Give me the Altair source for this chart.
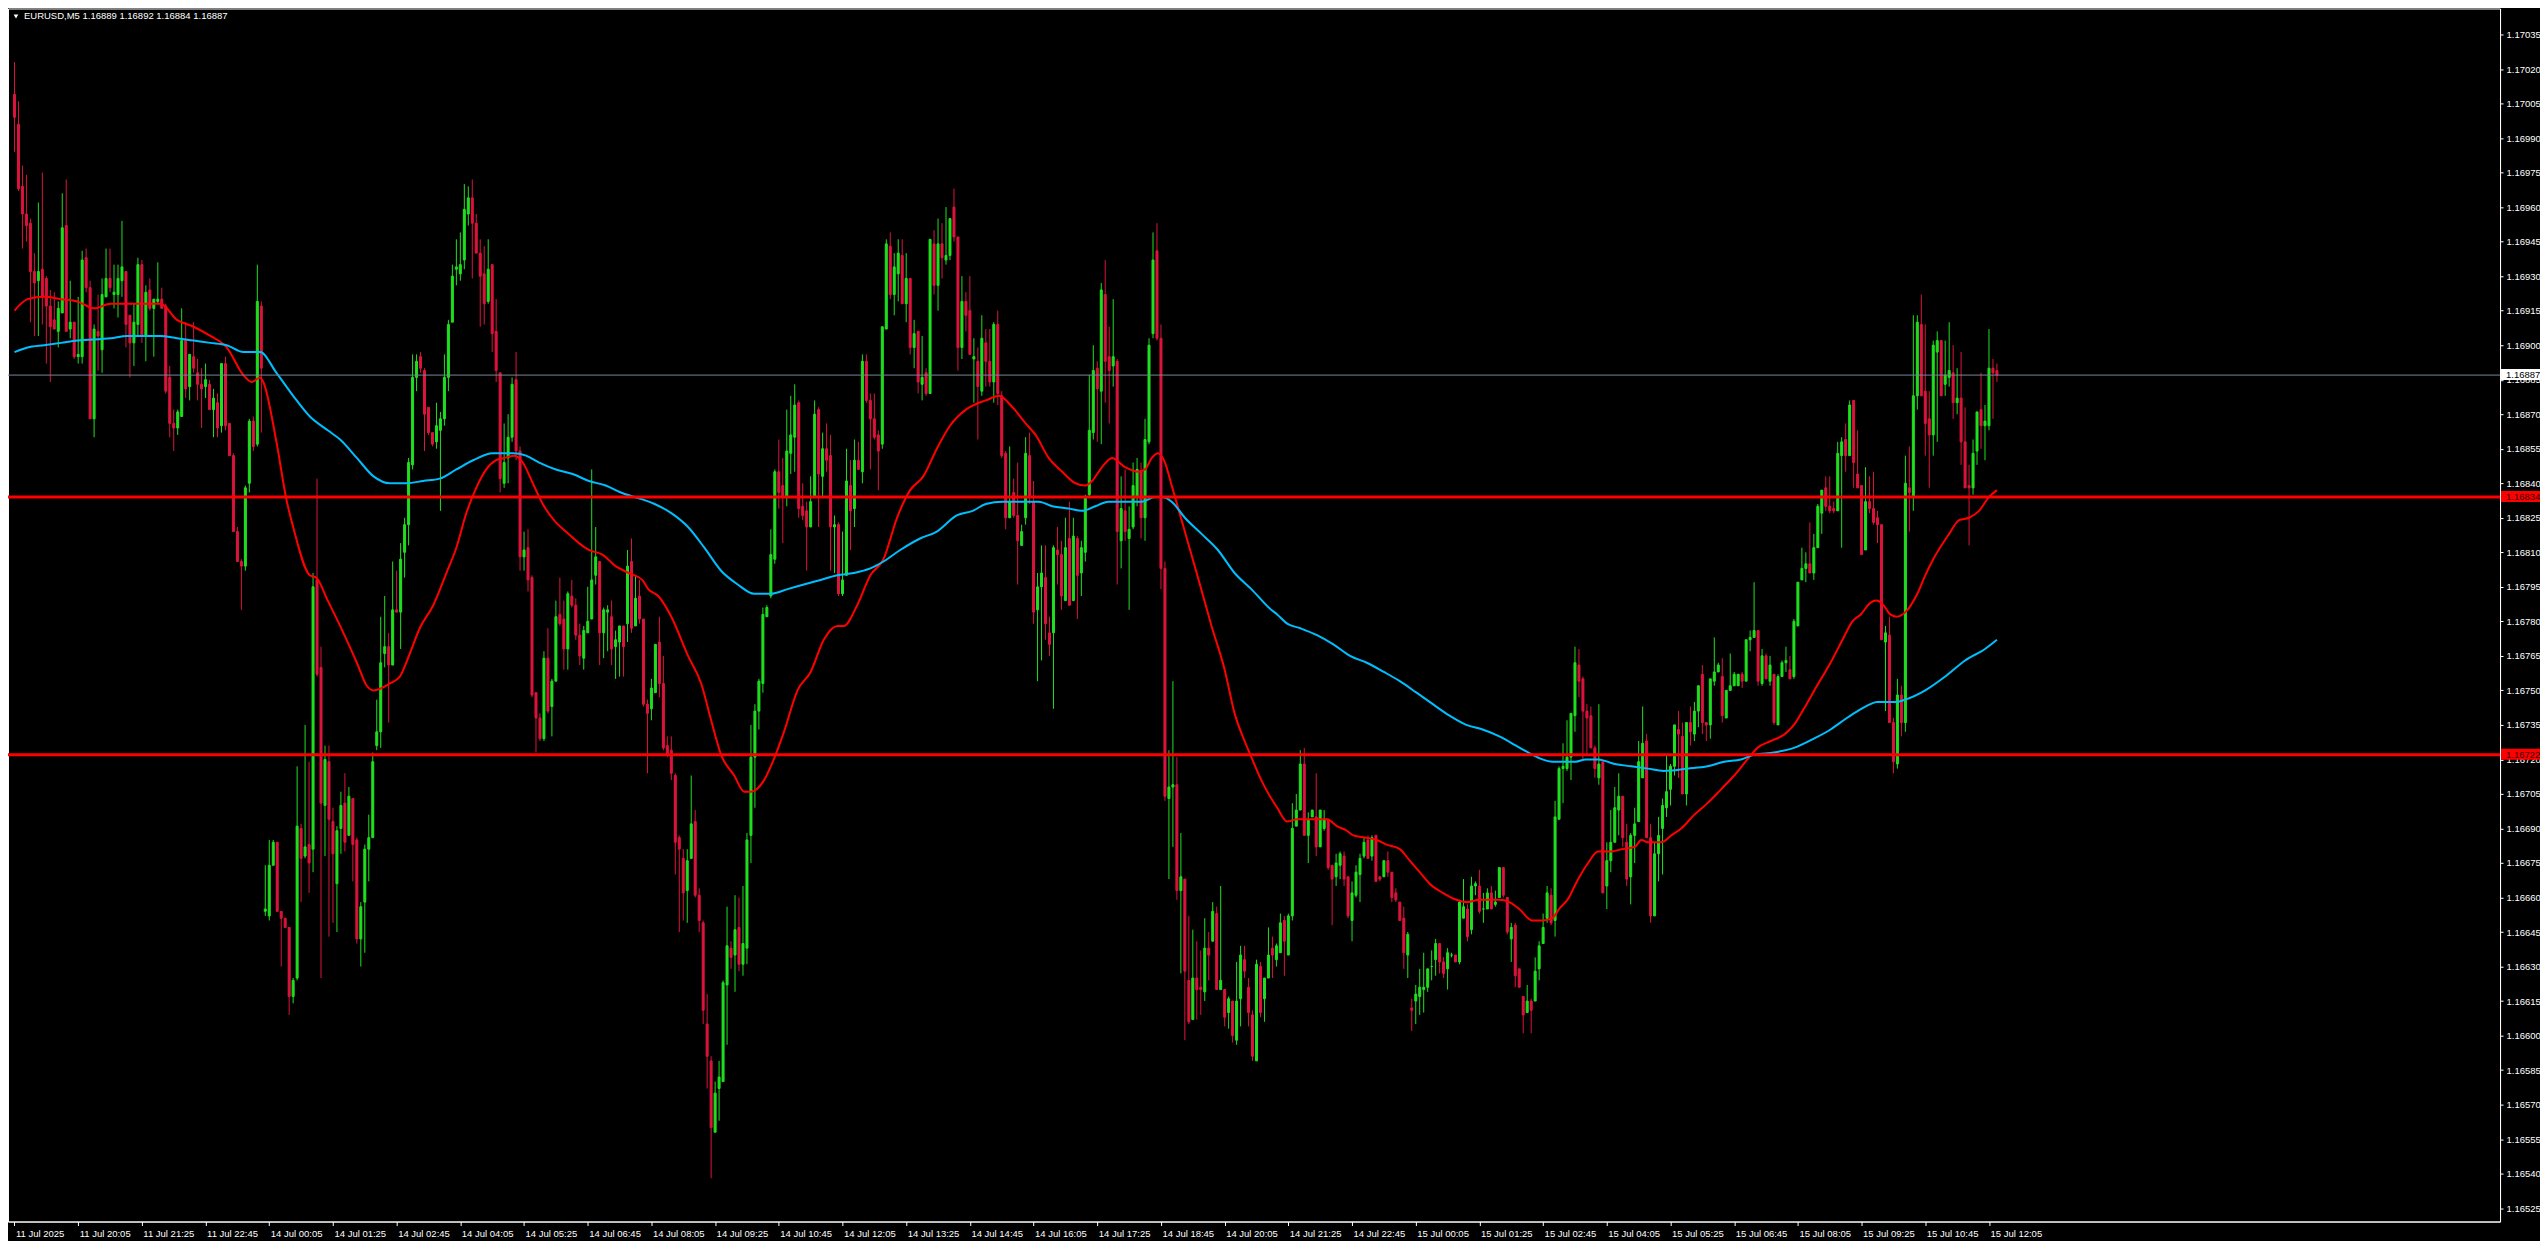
import altair as alt
import pandas as pd

# ---------------- data (prices in 1e-5 units) ----------------
OPEN = [117009,116996,116969,116957,116953,116932,116928,116933,116929,116917,116911,116906,116914,116952,116907,116910,116895,116895,116938,116925,
116868,116906,116898,116921,116929,116922,116922,116928,116932,116913,116901,116909,116935,116904,116924,116916,116919,116920,116917,116886,
116866,116864,116869,116902,116882,116895,116888,116883,116882,116883,116872,116875,116865,116892,116866,116852,116819,116806,116804,116840,
116867,116857,116917,116654,116652,116674,116684,116654,116651,116647,116617,116625,116690,116678,116683,116681,116798,116760,116700,116719,
116693,116666,116690,116701,116687,116703,116685,116642,116658,116681,116686,116726,116732,116766,116769,116761,116785,116784,116810,116822,
116848,116886,116895,116889,116873,116862,116858,116863,116868,116886,116910,116933,116931,116937,116957,116964,116953,116940,116931,116919,
116935,116906,116888,116840,116851,116860,116885,116854,116808,116812,116799,116749,116738,116729,116764,116743,116754,116783,116781,116768,
116791,116787,116774,116764,116775,116781,116800,116806,116775,116784,116782,116769,116771,116778,116779,116806,116778,116791,116781,116744,
116742,116749,116771,116753,116726,116724,116713,116686,116677,116663,116677,116693,116661,116649,116605,116589,116558,116577,116580,116622,
116638,116635,116647,116631,116638,116687,116721,116741,116753,116782,116791,116807,116845,116839,116834,116853,116860,116875,116830,116828,
116821,116834,116872,116843,116855,116852,116821,116822,116792,116800,116839,116829,116850,116845,116893,116876,116868,116861,116857,116907,
116943,116922,116931,116939,116918,116929,116899,116906,116883,116888,116879,116944,116926,116944,116937,116939,116960,116947,116899,116919,
116915,116894,116893,116880,116901,116893,116884,116909,116878,116853,116825,116836,116826,116813,116825,116852,116832,116785,116795,116799,
116775,116775,116811,116809,116789,116816,116789,116816,116801,116810,116835,116862,116890,116880,116922,116895,116891,116893,116815,116828,
116816,116821,116834,116845,116825,116858,116905,116941,116903,116803,116703,116708,116709,116663,116668,116624,116607,116625,116621,116619,
116638,116641,116653,116620,116620,116610,116615,116598,116616,116633,116621,116609,116589,116630,116616,116625,116638,116633,116636,116650,
116635,116652,116691,116698,116718,116687,116695,116695,116682,116690,116694,116674,116669,116674,116678,116669,116650,116661,116670,116678,
116685,116678,116687,116669,116669,116676,116671,116662,116658,116651,116635,116612,116615,116617,116620,116621,116630,116633,116640,116632,
116629,116635,116635,116632,116651,116655,116646,116665,116665,116655,116655,116662,116657,116660,116673,116660,116642,116648,116629,116617,
116610,116615,116615,116629,116640,116651,116661,116650,116694,116716,116716,116721,116739,116761,116755,116741,116739,116725,116712,116719,
116665,116676,116684,116698,116704,116684,116669,116687,116693,116712,116728,116686,116652,116679,116690,116699,116707,116717,116733,116730,
116705,116736,116731,116741,116757,116736,116735,116754,116758,116756,116738,116750,116752,116752,116757,116754,116772,116773,116776,116753,
116765,116754,116757,116735,116756,116762,116759,116756,116778,116798,116803,116805,116801,116812,116827,116838,116830,116829,116828,116852,
116859,116852,116876,116844,116839,116811,116832,116829,116825,116822,116771,116774,116736,116718,116748,116736,116838,116834,116878,116909,
116880,116868,116861,116897,116902,116883,116886,116888,116875,116877,116858,116839,116838,116854,116872,116865,116865,116890,116889]

HIGH = [117023,117006,116978,116974,116955,116940,116962,116975,116930,116924,116923,116919,116966,116972,116928,116910,116921,116941,116942,116928,
116909,116922,116929,116942,116942,116935,116935,116954,116932,116913,116918,116938,116937,116926,116929,116920,116936,116925,116918,116891,
116872,116872,116916,116910,116896,116910,116894,116890,116892,116885,116881,116879,116892,116895,116866,116853,116821,116807,116839,116868,
116869,116935,116919,116674,116685,116685,116684,116654,116651,116647,116625,116717,116692,116735,116719,116801,116842,116769,116726,116726,
116699,116691,116706,116714,116708,116703,116686,116658,116683,116696,116723,116746,116782,116791,116775,116806,116802,116814,116825,116851,
116896,116896,116897,116890,116873,116862,116875,116871,116896,116911,116935,116946,116949,116970,116969,116972,116957,116946,116943,116946,
116935,116920,116888,116866,116870,116886,116897,116856,116819,116820,116800,116749,116740,116767,116777,116755,116789,116799,116789,116793,
116798,116790,116779,116778,116795,116846,116821,116806,116786,116787,116789,116776,116778,116778,116811,116816,116800,116798,116781,116746,
116755,116770,116782,116765,116730,116730,116714,116687,116681,116681,116713,116698,116664,116650,116618,116591,116580,116589,116624,116656,
116641,116661,116660,116665,116688,116735,116744,116755,116786,116787,116820,116846,116859,116851,116872,116878,116883,116876,116840,116832,
116843,116876,116873,116862,116866,116861,116826,116823,116819,116855,116850,116859,116858,116896,116896,116879,116879,116863,116908,116946,
116949,116940,116946,116946,116940,116929,116911,116906,116904,116890,116946,116950,116955,116953,116960,116955,116968,116947,116930,116923,
116930,116903,116899,116913,116907,116907,116910,116915,116880,116854,116856,116842,116849,116822,116860,116862,116841,116801,116813,116813,
116782,116813,116821,116815,116825,116832,116825,116817,116815,116835,116887,116900,116893,116927,116937,116908,116920,116894,116843,116846,
116830,116849,116851,116849,116868,116903,116949,116953,116909,116806,116724,116754,116721,116688,116668,116652,116646,116641,116637,116651,
116645,116658,116656,116665,116620,116617,116615,116632,116639,116639,116625,116611,116633,116632,116625,116647,116643,116640,116653,116652,
116653,116701,116705,116724,116725,116697,116698,116714,116698,116698,116694,116674,116679,116680,116680,116669,116667,116674,116679,116686,
116687,116687,116687,116669,116676,116680,116671,116664,116658,116656,116645,116616,116622,116629,116636,116629,116637,116642,116640,116634,
116638,116636,116635,116659,116668,116657,116669,116667,116672,116662,116664,116665,116663,116673,116673,116660,116649,116649,116629,116617,
116622,116616,116634,116641,116653,116665,116664,116702,116717,116727,116737,116740,116769,116768,116756,116744,116743,116726,116744,116719,
116684,116698,116708,116714,116704,116692,116688,116699,116728,116743,116731,116692,116684,116695,116703,116722,116718,116735,116741,116736,
116736,116743,116745,116752,116761,116736,116755,116773,116762,116764,116750,116766,116758,116757,116758,116772,116776,116797,116776,116768,
116766,116765,116757,116757,116763,116769,116765,116781,116797,116812,116810,116823,116818,116831,116837,116843,116843,116832,116858,116860,
116866,116876,116876,116863,116839,116847,116843,116845,116828,116822,116778,116782,116738,116755,116752,116852,116856,116913,116913,116922,
116909,116880,116902,116906,116902,116902,116910,116900,116890,116897,116873,116848,116859,116871,116888,116874,116907,116894,116892]

LOW = [116984,116967,116942,116945,116910,116904,116904,116909,116892,116884,116907,116899,116914,116906,116903,116894,116892,116892,116923,116868,
116860,116889,116888,116921,116923,116916,116912,116921,116899,116886,116891,116904,116901,116893,116915,116895,116918,116916,116879,116860,
116854,116861,116869,116877,116876,116888,116876,116864,116877,116872,116860,116860,116862,116863,116852,116819,116806,116785,116802,116836,
116854,116856,116862,116652,116650,116674,116654,116630,116647,116609,116614,116624,116658,116677,116662,116671,116756,116625,116678,116643,
116649,116645,116679,116680,116687,116667,116640,116630,116636,116667,116686,116724,116725,116760,116736,116761,116784,116768,116799,116813,
116846,116880,116888,116854,116861,116856,116855,116828,116865,116880,116910,116926,116928,116933,116952,116929,116940,116908,116909,116918,
116897,116884,116836,116838,116840,116858,116850,116802,116802,116793,116747,116723,116728,116728,116740,116730,116754,116778,116759,116759,
116786,116772,116761,116759,116775,116781,116796,116761,116764,116767,116761,116755,116756,116756,116771,116775,116778,116779,116743,116714,
116737,116749,116747,116724,116721,116711,116670,116645,116650,116649,116677,116660,116645,116605,116577,116538,116558,116563,116580,116596,
116629,116619,116628,116626,116631,116675,116699,116733,116749,116782,116790,116805,116829,116814,116830,116844,116845,116825,116824,116802,
116821,116834,116821,116834,116845,116802,116801,116791,116791,116800,116811,116821,116846,116840,116875,116846,116859,116837,116855,116907,
116920,116913,116919,116918,116910,116896,116890,116879,116876,116878,116879,116922,116915,116929,116935,116937,116945,116889,116894,116906,
116896,116875,116859,116878,116882,116882,116875,116874,116851,116820,116825,116825,116796,116813,116822,116831,116779,116754,116763,116772,
116765,116742,116796,116785,116789,116787,116789,116781,116791,116806,116834,116859,116858,116857,116875,116866,116882,116796,116803,116815,
116785,116820,116830,116816,116815,116857,116903,116902,116794,116702,116668,116682,116659,116627,116598,116605,116607,116607,116609,116615,
116624,116641,116620,116620,116604,116603,116597,116596,116604,116625,116604,116589,116589,116608,116606,116625,116625,116630,116636,116626,
116635,116650,116691,116698,116687,116675,116695,116678,116682,116689,116672,116648,116665,116668,116665,116651,116641,116660,116658,116677,
116677,116676,116667,116667,116669,116669,116658,116658,116650,116629,116625,116602,116605,116609,116610,116619,116624,116626,116627,116625,
116620,116634,116632,116631,116651,116641,116644,116661,116653,116649,116655,116655,116656,116660,116660,116644,116632,116621,116621,116601,
116610,116601,116615,116624,116640,116649,116648,116643,116694,116701,116715,116711,116732,116747,116720,116722,116725,116712,116709,116662,
116655,116671,116684,116687,116682,116665,116657,116675,116693,116712,116686,116649,116652,116667,116670,116695,116700,116713,116712,116705,
116700,116726,116728,116734,116731,116728,116729,116752,116758,116736,116738,116750,116752,116752,116751,116754,116767,116773,116752,116752,
116755,116752,116735,116735,116756,116758,116755,116755,116778,116798,116797,116801,116798,116812,116818,116828,116827,116827,116828,116812,
116845,116852,116838,116838,116809,116811,116827,116822,116814,116772,116741,116736,116714,116716,116730,116732,116819,116828,116872,116878,
116852,116838,116852,116858,116878,116878,116882,116868,116870,116848,116838,116813,116835,116848,116855,116850,116863,116868,116884]

CLOSE = [116999,116968,116957,116952,116932,116927,116932,116921,116917,116908,116907,116916,116951,116906,116910,116895,116896,116937,116925,116868,
116907,116904,116922,116929,116925,116923,116929,116934,116909,116901,116910,116935,116904,116923,116916,116920,116920,116916,116880,116866,
116864,116871,116902,116881,116896,116890,116883,116881,116885,116872,116877,116864,116892,116865,116852,116819,116806,116804,116838,116867,
116856,116919,116890,116655,116674,116684,116654,116651,116647,116617,116624,116691,116677,116682,116675,116795,116757,116701,116720,116694,
116679,116689,116700,116684,116704,116683,116642,116656,116681,116686,116719,116732,116762,116769,116761,116785,116784,116807,116822,116849,
116886,116893,116890,116870,116862,116857,116865,116868,116886,116909,116930,116934,116935,116959,116964,116953,116940,116930,116918,116933,
116905,116889,116842,116849,116860,116883,116854,116808,116811,116798,116748,116738,116729,116764,116741,116754,116782,116779,116768,116792,
116787,116774,116765,116776,116780,116798,116808,116775,116785,116785,116768,116772,116778,116769,116804,116777,116790,116781,116744,116740,
116751,116770,116753,116725,116722,116714,116684,116681,116662,116676,116692,116661,116650,116611,116591,116560,116575,116582,116623,116639,
116634,116646,116631,116640,116685,116721,116741,116754,116783,116786,116809,116845,116836,116834,116854,116861,116874,116829,116826,116821,
116832,116870,116844,116855,116850,116821,116822,116792,116798,116841,116828,116850,116846,116893,116876,116868,116860,116854,116908,116944,
116922,116934,116940,116918,116929,116899,116905,116884,116886,116879,116946,116926,116944,116938,116939,116955,116947,116899,116919,116913,
116896,116895,116882,116903,116893,116884,116909,116879,116852,116825,116832,116826,116815,116819,116853,116834,116784,116795,116801,116779,
116770,116812,116809,116791,116812,116787,116817,116800,116812,116834,116863,116889,116881,116924,116893,116889,116895,116819,116829,116819,
116820,116839,116846,116825,116859,116900,116937,116903,116803,116704,116708,116709,116663,116669,116628,116606,116625,116620,116620,116638,
116635,116654,116620,116624,116608,116616,116600,116615,116635,116628,116610,116591,116631,116610,116625,116635,116635,116639,116649,116641,
116652,116690,116698,116718,116687,116694,116698,116682,116698,116694,116673,116668,116675,116679,116668,116652,116662,116671,116677,116684,
116677,116686,116667,116668,116676,116671,116660,116659,116650,116636,116644,116611,116618,116621,116621,116629,116630,116640,116632,116627,
116636,116635,116632,116658,116656,116643,116665,116666,116654,116655,116662,116655,116658,116673,116661,116645,116647,116626,116621,116609,
116615,116611,116628,116639,116647,116662,116649,116695,116716,116717,116721,116740,116762,116754,116741,116738,116725,116716,116718,116662,
116676,116684,116699,116704,116686,116668,116687,116692,116719,116727,116686,116652,116679,116687,116700,116706,116717,116735,116731,116705,
116736,116732,116741,116752,116736,116735,116755,116758,116761,116739,116750,116752,116757,116757,116754,116772,116773,116776,116754,116765,
116755,116761,116736,116756,116762,116763,116755,116780,116797,116803,116805,116801,116812,116830,116837,116830,116828,116828,116853,116858,
116852,116874,116849,116838,116809,116832,116829,116823,116822,116772,116775,116736,116719,116748,116736,116840,116836,116878,116910,116878,
116866,116861,116900,116902,116878,116887,116889,116875,116877,116858,116838,116838,116853,116871,116865,116867,116890,116888,116887]

# moving averages: (bar index, price in 1e-5 units)
RED_MA_X = [0,3.3,7.5,11.7,15.8,20,24.2,28.3,32.5,36.7,40.8,45,49.2,53.3,57.5,59.6,61.7,62.5,65.8,68.3,70,74.2,75.8,78.7,
81.8,86,88.5,90.2,94.3,96.8,99.3,101.8,105.2,108.5,111,113.5,116,118.5,121,123.1,125.6,127.7,130.2,132.7,136,138.5,141.8,144.3,147.7,151,154.3,157.7,
159.2,161.7,165,169.2,172.5,175,177.5,180.8,183.3,185,188.3,190,193.3,196.7,200,203.3,206.7,208.3,211.7,215,218.3,221.7,225,228.3,231.7,235,
239,242.3,244,247.3,250.7,254,256.5,259.8,263.2,266.5,269,270.7,273.2,275.7,279,282.3,284,285.7,287.3,289,290.7,294,297.3,300.7,304,306.5,309,310.7,313.2,
314.7,317.2,319.7,322.2,327.2,329.7,332.2,334.7,336.3,339.7,342.2,344.7,348,350.5,353,355.5,358.8,362.2,364.7,368,373,375.5,378,381.3,383.8,386.3,388,390.5,392.2,
395.3,397.8,401.2,403.7,407,408.7,410.3,413.7,416.2,418.7,422,425.3,428.7,432,435.3,437.8,441.2,444.7,447,449.5,452.8,456.2,459.5,461.7,463.8,466.2,467.8,469.5,471.2,472.8,
475,478,480,482,486,488.5,491,493.5,496,498]
RED_MA_V = [116915,116920,116921,116920,116919,116916,116918,116918,116918,116918,116911,116908,116904,116899,116887,116884,116886,116884,116858,116833,116821,116800,116799,116789,
116778,116762,116752,116750,116753,116756,116766,116777,116787,116801,116812,116827,116838,116846,116850,116851,116852,116849,116840,116831,116823,116819,116814,116811,116809,116804,116801,116798,
116794,116791,116782,116765,116753,116737,116722,116713,116706,116706,116711,116717,116732,116750,116758,116772,116778,116778,116787,116800,116807,116825,116837,116843,116855,116865,
116872,116875,116876,116878,116873,116866,116861,116851,116845,116840,116839,116841,116847,116851,116847,116845,116846,116851,116853,116849,116839,116819,116799,116778,116759,116740,116728,116721,116711,
116706,116699,116693,116694,116694,116694,116691,116689,116687,116686,116685,116683,116681,116676,116671,116666,116662,116659,116658,116659,116659,116658,116655,116650,116650,116651,116655,116660,116666,
116675,116680,116680,116681,116682,116685,116684,116684,116687,116690,116696,116701,116707,116713,116720,116725,116728,116731,116735,116742,116752,116762,116773,116780,116783,116788,116789,116787,116783,116782,
116784,116792,116800,116807,116818,116824,116825,116828,116834,116837]

BLUE_MA_X = [0,3.3,7.5,11.7,15.8,24.2,28.3,36.7,40.8,45,49.2,53.3,57.5,61.7,65.8,70,74.2,78.7,
81.8,86,90.2,94.3,98.5,102.7,106.8,111,115.2,120.2,125.3,128.5,131.8,136,140.2,144.3,148.5,152.3,155.8,157.7,
160.8,165,169.2,173.3,177.5,181.7,185.8,190,194.2,198.3,202.5,206.7,210.8,215,218.3,222.5,227.5,231.7,236.7,
240.7,244,248.2,252.3,257.3,260.7,264.8,268.2,271.5,274.8,279,283.2,286.5,288.2,290.7,294,298.2,302.3,306.5,310.7,315.7,
317.2,319.7,323,327.2,331.3,335.5,339.7,344,348,352.2,356.3,360.5,364.7,368.8,373,377.2,381.3,383.8,386.3,389.7,392.2,394.7,
397.8,402,406.2,410.3,414.3,420.3,425.3,429.5,433.7,437,442,447,452,456.2,460.3,463,466.2,467.8,472.8,
475,480,485,490,495,498]
BLUE_MA_V = [116897,116899,116900,116901,116902,116903,116904,116904,116903,116902,116901,116900,116897,116897,116888,116878,116869,116863,
116859,116851,116843,116840,116840,116841,116842,116846,116850,116853,116853,116852,116849,116846,116844,116841,116839,116836,116834,116833,
116831,116827,116821,116812,116802,116796,116792,116792,116794,116796,116798,116800,116801,116803,116806,116811,116816,116819,116826,
116828,116831,116832,116832,116832,116830,116829,116828,116830,116832,116832,116832,116834,116834,116832,116825,116818,116811,116801,116794,116785,
116783,116779,116777,116774,116770,116765,116762,116758,116754,116749,116744,116739,116735,116733,116730,116726,116722,116720,116719,116719,116719,116720,
116720,116718,116717,116716,116715,116716,116717,116719,116720,116722,116723,116725,116729,116733,116738,116741,116744,116745,116745,
116746,116750,116756,116763,116768,116772]

TIME_LABELS = ["11 Jul 2025", "11 Jul 20:05", "11 Jul 21:25", "11 Jul 22:45", "14 Jul 00:05", "14 Jul 01:25",
               "14 Jul 02:45", "14 Jul 04:05", "14 Jul 05:25", "14 Jul 06:45", "14 Jul 08:05", "14 Jul 09:25",
               "14 Jul 10:45", "14 Jul 12:05", "14 Jul 13:25", "14 Jul 14:45", "14 Jul 16:05", "14 Jul 17:25",
               "14 Jul 18:45", "14 Jul 20:05", "14 Jul 21:25", "14 Jul 22:45", "15 Jul 00:05", "15 Jul 01:25",
               "15 Jul 02:45", "15 Jul 04:05", "15 Jul 05:25", "15 Jul 06:45", "15 Jul 08:05", "15 Jul 09:25",
               "15 Jul 10:45", "15 Jul 12:05"]
PRICE_TICKS = [1.16525, 1.16540, 1.16555, 1.16570, 1.16585, 1.16600, 1.16615, 1.16630, 1.16645, 1.16660,
               1.16675, 1.16690, 1.16705, 1.16720, 1.16735, 1.16750, 1.16765, 1.16780, 1.16795, 1.16810,
               1.16825, 1.16840, 1.16855, 1.16870, 1.16885, 1.16900, 1.16915, 1.16930, 1.16945, 1.16960,
               1.16975, 1.16990, 1.17005, 1.17020, 1.17035]
LEVELS = [1.16834, 1.16722]
LEVEL_TEXT = ["1.16834", "1.16722"]
CURRENT = [1.16887]
CURRENT_TEXT = ["1.16887"]
HEADER = ["EURUSD,M5  1.16889 1.16892 1.16884 1.16887"]

# ---------------- layout / style ----------------
W, H = 2494, 1214
BARS_PER_LABEL = 16
GREEN, CRIMSON = "#1fe01f", "#dc143c"
FONT = "Liberation Sans"

n = len(CLOSE)
df = pd.DataFrame({
    "i": list(range(n)),
    "o": [v / 1e5 for v in OPEN],
    "c": [v / 1e5 for v in CLOSE],
})
df["h"] = [max(a, b, c) / 1e5 for a, b, c in zip(HIGH, OPEN, CLOSE)]
df["l"] = [min(a, b, c) / 1e5 for a, b, c in zip(LOW, OPEN, CLOSE)]
df["lo"] = df[["o", "c"]].min(axis=1)
df["hi"] = df[["o", "c"]].max(axis=1)
df["dir"] = ["up" if c >= o else "down" for o, c in zip(OPEN, CLOSE)]

red_ma = pd.DataFrame({"i": RED_MA_X, "v": [v / 1e5 for v in RED_MA_V]})
blue_ma = pd.DataFrame({"i": BLUE_MA_X, "v": [v / 1e5 for v in BLUE_MA_V]})

x0 = -1.5 / 4
xscale = alt.Scale(domain=[x0, x0 + W / 4], nice=False, zero=False)
yscale = alt.Scale(domain=[1.165192, 1.170463], nice=False, zero=False)
dir_scale = alt.Scale(domain=["up", "down"], range=[GREEN, CRIMSON])

label_expr = "[" + ",".join("'" + t + "'" for t in TIME_LABELS) + "][round(datum.value/16)]"

xaxis = alt.Axis(values=[BARS_PER_LABEL * k for k in range(len(TIME_LABELS))], labelExpr=label_expr,
                 labelAlign="left", labelBaseline="top", labelPadding=3, labelOffset=1, tickSize=4,
                 labelColor="#ffffff", tickColor="#ffffff", domainColor="#ffffff", labelFont=FONT,
                 labelFontSize=9.5, labelOverlap=False, labelFlush=False, grid=False, title=None)
yaxis = alt.Axis(orient="right", values=PRICE_TICKS, format=".5f", tickSize=3, labelPadding=3,
                 labelColor="#ffffff", tickColor="#ffffff", domainColor="#ffffff", labelFont=FONT,
                 labelFontSize=9.5, labelOverlap=False, labelFlush=False, grid=False, title=None)


def X(field):
    return alt.X(field, scale=xscale, axis=xaxis)


def Y(field):
    return alt.Y(field, scale=yscale, axis=yaxis)


base = alt.Chart(df)
wicks = base.mark_rule(strokeWidth=1).encode(
    x=X("i:Q"), y=Y("l:Q"), y2="h:Q",
    color=alt.Color("dir:N", scale=dir_scale, legend=None),
)
bodies = base.mark_bar(size=2, strokeWidth=1).encode(
    x=X("i:Q"), y=Y("lo:Q"), y2="hi:Q",
    color=alt.Color("dir:N", scale=dir_scale, legend=None),
    stroke=alt.Stroke("dir:N", scale=dir_scale, legend=None),
)

cur_df = pd.DataFrame({"p": CURRENT, "t": CURRENT_TEXT})
lev_df = pd.DataFrame({"p": LEVELS, "t": LEVEL_TEXT})

cur_line = alt.Chart(cur_df).mark_rule(color="#778899", strokeWidth=1).encode(y=Y("p:Q"))
lev_lines = alt.Chart(lev_df).mark_rule(color="#ff0000", strokeWidth=3).encode(y=Y("p:Q"))

red_line = alt.Chart(red_ma).mark_line(color="#ff0000", strokeWidth=2, interpolate="monotone").encode(
    x=X("i:Q"), y=Y("v:Q"))
blue_line = alt.Chart(blue_ma).mark_line(color="#00bfff", strokeWidth=2, interpolate="monotone").encode(
    x=X("i:Q"), y=Y("v:Q"))

cur_box = alt.Chart(cur_df).mark_rect(color="#ffffff", yOffset=-6, y2Offset=5).encode(
    x=alt.value(W + 1), x2=alt.value(W + 44), y=Y("p:Q"), y2="p:Q")
cur_txt = alt.Chart(cur_df).mark_text(align="left", baseline="middle", color="#000000", font=FONT,
                                      fontSize=9.5).encode(
    x=alt.value(W + 6), y=Y("p:Q"), text="t:N")
lev_box = alt.Chart(lev_df).mark_rect(color="#ff0000", yOffset=-6, y2Offset=5).encode(
    x=alt.value(W + 1), x2=alt.value(W + 44), y=Y("p:Q"), y2="p:Q")
lev_txt = alt.Chart(lev_df).mark_text(align="left", baseline="middle", color="#3a0000", font=FONT,
                                      fontSize=9.5).encode(
    x=alt.value(W + 6), y=Y("p:Q"), text="t:N")

hdr_df = pd.DataFrame({"t": HEADER})
hdr_txt = alt.Chart(hdr_df).mark_text(align="left", baseline="middle", color="#ffffff", font=FONT,
                                      fontSize=9.5).encode(
    x=alt.value(16), y=alt.value(8), text="t:N")
hdr_tri = alt.Chart(hdr_df).mark_point(shape="triangle-down", filled=True, size=22, color="#ffffff",
                                       opacity=1).encode(x=alt.value(8), y=alt.value(8))

chart = alt.layer(
    wicks, bodies, red_line, blue_line, cur_line, lev_lines,
    cur_box, cur_txt, lev_box, lev_txt, hdr_tri, hdr_txt
).properties(
    width=W, height=H,
    autosize=alt.AutoSizeParams(type="none"),
    padding={"left": 0, "top": 0, "right": 40, "bottom": 19},
    background="#000000",
).configure_view(stroke="#ffffff", strokeWidth=1)

chart.save("out.html", embed_options={"renderer": "svg", "actions": False})
